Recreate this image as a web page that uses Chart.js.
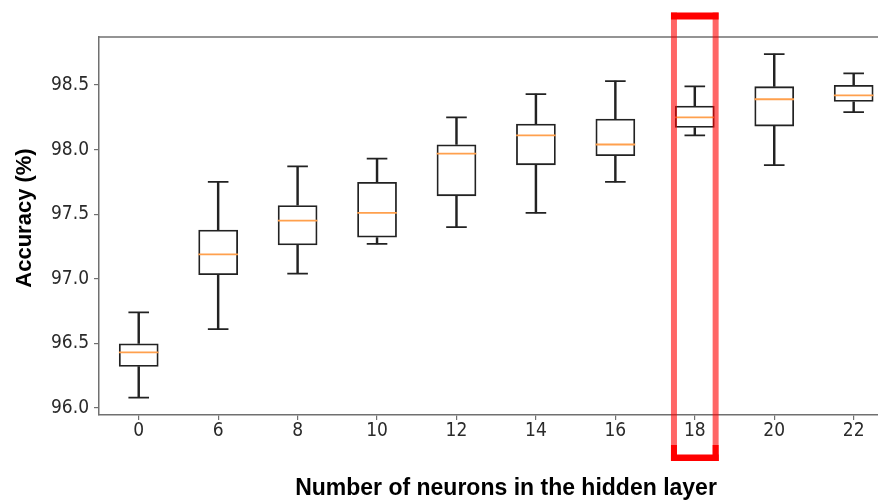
<!DOCTYPE html>
<html>
<head>
<meta charset="utf-8">
<script src="https://cdn.jsdelivr.net/npm/chart.js@4/dist/chart.umd.min.js"></script>
<style>
  html, body { margin: 0; padding: 0; background: #fff; overflow: hidden; }
  #wrap { width: 915px; height: 501px; }
</style>
</head>
<body>
<div id="wrap"><canvas id="chart" width="915" height="501"></canvas></div>
<script>
/* box plot: accuracy (%) vs. number of neurons in the hidden layer */
const neurons     = ['0', '6', '8', '10', '12', '14', '16', '18', '20', '22'];
const whiskerLow  = [96.08, 96.61, 97.04, 97.27, 97.40, 97.51, 97.75, 98.11, 97.88, 98.29];
const quart1      = [96.32, 97.03, 97.26, 97.32, 97.64, 97.88, 97.95, 98.17, 98.18, 98.37];
const medians     = [96.43, 97.19, 97.45, 97.51, 97.97, 98.11, 98.04, 98.25, 98.39, 98.42];
const quart3      = [96.50, 97.38, 97.57, 97.75, 98.04, 98.20, 98.24, 98.34, 98.49, 98.50];
const whiskerHigh = [96.74, 97.75, 97.87, 97.93, 98.25, 98.43, 98.53, 98.49, 98.74, 98.59];
const yTicks      = [96.0, 96.5, 97.0, 97.5, 98.0, 98.5];
const highlight   = '18';

const xTitle = 'Number of neurons in the hidden layer';
const yTitle = 'Accuracy (%)';

const boxLine = '#222';
const spine = '#707070';
const tickFont = { family: '"DejaVu Sans Condensed", "DejaVu Sans", sans-serif', size: 19 };

/* spine on top, red highlight box and the axis titles */
const decor = {
    id: 'decor',
    beforeDatasetsDraw(chart) {
        const { ctx, chartArea } = chart;
        ctx.save();
        ctx.strokeStyle = spine;
        ctx.lineWidth = 1.5;
        ctx.beginPath();
        ctx.moveTo(chartArea.left, chartArea.top);
        ctx.lineTo(chartArea.right, chartArea.top);
        ctx.stroke();
        ctx.restore();
    },
    afterDraw(chart) {
        const { ctx, chartArea, scales: { x } } = chart;
        const i = neurons.indexOf(highlight);
        const xc = x.getPixelForValue(i);
        const half = x.width / neurons.length * 0.3;
        const left = xc - half, right = xc + half;
        const top = chartArea.top - 24.5, bottom = chartArea.bottom + 46;
        const side = 6;

        ctx.save();
        // light sides
        ctx.fillStyle = 'rgba(255,0,0,0.6)';
        ctx.fillRect(left, top, side, bottom - top);
        ctx.fillRect(right - side, top, side, bottom - top);
        // solid top / bottom
        ctx.fillStyle = '#f00';
        ctx.fillRect(left, top, right - left, 7);
        ctx.fillRect(left, bottom - 6.5, right - left, 6.5);
        ctx.fillRect(left, bottom - 16, side, 16);
        ctx.fillRect(right - side, bottom - 16, side, 16);

        // axis titles
        ctx.fillStyle = '#000';
        ctx.textAlign = 'center';
        ctx.textBaseline = 'middle';
        ctx.font = 'bold 23px "Liberation Sans", Arial, sans-serif';
        ctx.fillText(xTitle, 506, 489);
        ctx.translate(25, 218);
        ctx.rotate(-Math.PI / 2);
        ctx.font = 'bold 22px "Liberation Sans", Arial, sans-serif';
        ctx.fillText(yTitle, 0, 0);
        ctx.restore();
    }
};

const whiskerStyle = {
    type: 'bar',
    backgroundColor: boxLine,
    barThickness: 1.8,
    grouped: false,
    order: 3
};

const capStyle = {
    type: 'line',
    showLine: false,
    pointStyle: 'line',
    pointRadius: 10.3,
    pointBorderColor: boxLine,
    pointBorderWidth: 1.8,
    order: 1
};

new Chart(document.getElementById('chart'), {
    type: 'bar',
    data: {
        labels: neurons,
        datasets: [
            { ...whiskerStyle, data: neurons.map((_, i) => [whiskerLow[i], quart1[i]]) },
            { ...whiskerStyle, data: neurons.map((_, i) => [quart3[i], whiskerHigh[i]]) },
            {
                type: 'bar',
                data: neurons.map((_, i) => [quart1[i], quart3[i]]),
                backgroundColor: 'rgba(0,0,0,0)',
                borderColor: boxLine,
                borderWidth: 1.8,
                borderSkipped: false,
                barPercentage: 0.5,
                categoryPercentage: 1,
                grouped: false,
                order: 2
            },
            { ...capStyle, data: whiskerHigh },
            { ...capStyle, data: whiskerLow },
            {
                type: 'line',
                data: medians,
                showLine: false,
                pointStyle: 'line',
                pointRadius: 19.8,
                pointBorderColor: '#ffa04d',
                pointBorderWidth: 1.8,
                order: 0
            }
        ]
    },
    options: {
        responsive: false,
        animation: false,
        events: [],
        layout: { padding: { top: 37, left: 0, right: 17, bottom: 0 } },
        plugins: { legend: { display: false }, tooltip: { enabled: false } },
        scales: {
            x: {
                offset: true,
                afterFit(scale) { scale.height = 86; },
                grid: { display: true, offset: false, drawOnChartArea: false, tickLength: 5, color: spine, lineWidth: 1.2 },
                border: { display: true, color: spine, width: 1.5 },
                ticks: { font: tickFont, color: '#2a2a2a', padding: 0 }
            },
            y: {
                min: 95.946,
                max: 98.872,
                afterFit(scale) { scale.width = 99; },
                afterBuildTicks(scale) { scale.ticks = yTicks.map(v => ({ value: v })); },
                grid: { display: true, drawOnChartArea: false, tickLength: 5, color: spine, lineWidth: 1.2 },
                border: { display: true, color: spine, width: 1.5 },
                ticks: { font: tickFont, color: '#2a2a2a', padding: 5, callback: v => Number(v).toFixed(1) }
            }
        }
    },
    plugins: [decor]
});
</script>
</body>
</html>
